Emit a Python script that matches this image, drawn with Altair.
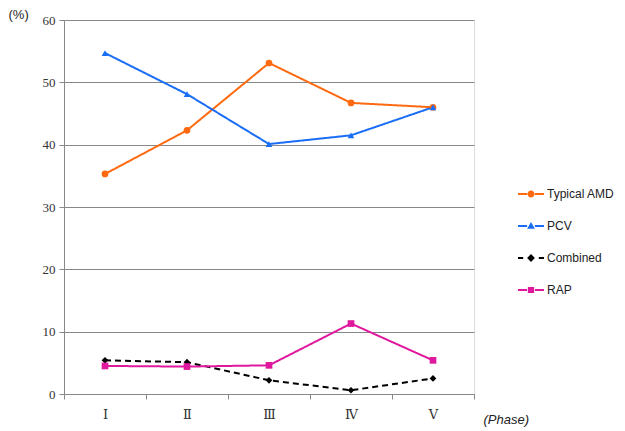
import altair as alt
import pandas as pd

phases = ["Ⅰ", "Ⅱ", "Ⅲ", "Ⅳ", "Ⅴ"]
series = ["Typical AMD", "PCV", "Combined", "RAP"]
typical_amd = [35.3, 42.3, 53.1, 46.7, 46.0]
pcv = [54.7, 48.1, 40.1, 41.5, 46.0]
combined = [5.4, 5.1, 2.2, 0.6, 2.5]
rap = [4.5, 4.4, 4.6, 11.3, 5.4]

colors = ["#FF6A10", "#1A6EF5", "#000000", "#E0189E"]
shapes = ["circle", "triangle-up", "diamond", "square"]
dashes = [[1, 0], [1, 0], [6, 4], [1, 0]]

# legend glyphs: line segment + marker (unit box -1..1)
seg_l = "M-1,-0.075L-0.3,-0.075L-0.3,0.075L-1,0.075Z"
seg_r = "M0.3,-0.075L1,-0.075L1,0.075L0.3,0.075Z"
dash_l = "M-1,-0.075L-0.6,-0.075L-0.6,0.075L-1,0.075Z"
dash_r = "M0.6,-0.075L1,-0.075L1,0.075L0.6,0.075Z"
legend_shapes = [
    seg_l + seg_r + "M-0.27,0A0.27,0.27 0 1,1 0.27,0A0.27,0.27 0 1,1 -0.27,0Z",
    seg_l + seg_r + "M0,-0.3L0.3,0.22L-0.3,0.22Z",
    dash_l + dash_r + "M0,-0.3L0.3,0L0,0.3L-0.3,0Z",
    seg_l + seg_r + "M-0.24,-0.24L0.24,-0.24L0.24,0.24L-0.24,0.24Z",
]

rows = []
for name, vals in zip(series, [typical_amd, pcv, combined, rap]):
    for p, v in zip(phases, vals):
        rows.append({"Phase": p, "Value": v, "Series": name})
df = pd.DataFrame(rows)

x = alt.X("Phase:N", sort=phases,
          scale=alt.Scale(paddingInner=0, paddingOuter=0),
          axis=alt.Axis(title="(Phase)", labelAngle=0, tickBand="extent",
                        labelFont="DejaVu Serif", labelFontSize=13, labelColor="#333",
                        labelPadding=9, tickSize=5, domainColor="#888", tickColor="#888",
                        titleFont="Liberation Sans", titleFontStyle="italic", titleFontWeight="normal",
                        titleFontSize=13, titleColor="#222", titleAlign="left", titleBaseline="middle",
                        titleX=419, titleY=25, titleAnchor="start"))
y = alt.Y("Value:Q", scale=alt.Scale(domain=[0, 60]),
          axis=alt.Axis(title="(%)", values=[0, 10, 20, 30, 40, 50, 60], grid=True,
                        gridColor="#888", gridWidth=1, domainColor="#888", tickColor="#888",
                        tickSize=5, labelFont="Liberation Serif", labelFontSize=13,
                        labelColor="#333", labelPadding=4,
                        titleAngle=0, titleFont="Liberation Sans", titleFontWeight="normal",
                        titleFontSize=13, titleColor="#222", titleAlign="left",
                        titleBaseline="middle", titleX=-56, titleY=-6))

legend = alt.Legend(title=None, orient="none", legendX=454, legendY=161, padding=0,
                    labelFont="Liberation Sans", labelFontSize=12, labelColor="#222",
                    rowPadding=13, symbolSize=676, labelOffset=3, symbolStrokeWidth=0)

def color(leg):
    return alt.Color("Series:N", sort=series, scale=alt.Scale(domain=series, range=colors),
                     legend=leg)

dash = alt.StrokeDash("Series:N", sort=series, scale=alt.Scale(domain=series, range=dashes),
                      legend=None)

lines = alt.Chart(df).mark_line(strokeWidth=2).encode(x=x, y=y, color=color(None), strokeDash=dash)
points = alt.Chart(df).mark_point(filled=True, size=45, opacity=1).encode(
    x=x, y=y, color=color(None),
    shape=alt.Shape("Series:N", sort=series, scale=alt.Scale(domain=series, range=shapes), legend=None))
legend_layer = alt.Chart(df).transform_filter("false").mark_point(filled=True, opacity=1).encode(
    x=x, y=y, color=color(legend),
    shape=alt.Shape("Series:N", sort=series, scale=alt.Scale(domain=series, range=legend_shapes),
                    legend=legend))

chart = alt.layer(lines, points, legend_layer).resolve_scale(
    shape="independent", color="independent").properties(
    width=410, height=374,
    autosize=alt.AutoSizeParams(type="none"),
    padding={"left": 56, "top": 12, "right": 143, "bottom": 37},
).configure_view(stroke=None).configure(background="white")

chart.save("out.html", embed_options={"renderer": "svg", "actions": False})
